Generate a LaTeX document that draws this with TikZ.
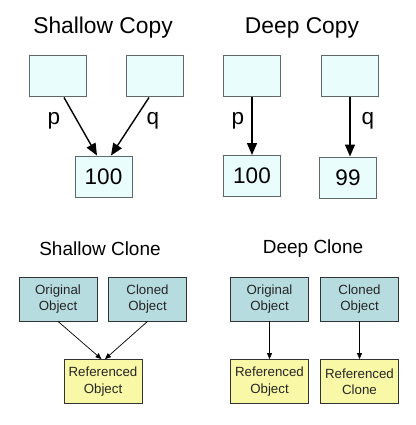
\documentclass[tikz,border=0pt]{standalone}
\usepackage{fontspec}
\setmainfont{Liberation Sans}
\usepackage{tikz}
\usetikzlibrary{positioning,arrows.meta,calc}
\definecolor{ptrfill}{HTML}{EAFDFD}
\definecolor{ptrdraw}{HTML}{5F6868}
\definecolor{objfill}{HTML}{B7DCE0}
\definecolor{reffill}{HTML}{F8F8A6}

\begin{document}
\begin{tikzpicture}[x=1pt,y=-1pt,
		title/.style={font=\fontsize{22.8}{26}\selectfont},
		subtitle/.style={font=\fontsize{19}{22}\selectfont},
		cell/.style={draw=ptrdraw,fill=ptrfill,line width=1pt,minimum width=57pt,minimum height=41pt,inner sep=0pt,font=\fontsize{22.5}{26}\selectfont},
		lbl/.style={font=\fontsize{22.5}{26}\selectfont},
		obj/.style={draw=black!80,line width=0.8pt,minimum width=78pt,minimum height=44pt,inner sep=0pt,align=center,font=\fontsize{13.3}{16.5}\selectfont,text=black!85},
		ptr/.style={-{Triangle[length=12pt,width=10pt]},line width=1.4pt},
		link/.style={-{Triangle[length=6pt,width=5pt]},line width=0.7pt}]
		
		\useasboundingbox (0,0) rectangle (415,425);
		
		% shallow copy
		\node[title] (tsc) at (103,28) {Shallow Copy};
		\node[cell] (sp) at (57.5,76.5) {};
		\node[cell] (sq) at (155,76.5) {};
		\node[cell] (sv) at (103.5,176.5) {100};
		\draw[ptr] ([xshift=6.5pt]sp.south) -- ([xshift=-6.5pt]sv.north);
		\draw[ptr] ([xshift=-6pt]sq.south) -- ([xshift=7.5pt]sv.north);
		\node[lbl] (spl) at (54,121) {p};
		\node[lbl] (sql) at (153,121) {q};
		
		% deep copy
		\node[title] (tdc) at (302,28) {Deep Copy};
		\node[cell] (dp) at (252,76.5) {};
		\node[cell] (dq) at (350,76.5) {};
		\node[cell] (dv) at (252,176) {100};
		\node[cell] (dw) at (348,177.5) {99};
		\draw[ptr] (dp.south) -- (dv.north);
		\draw[ptr] (dq.south) -- (dq.south |- dw.north);
		\node[lbl] (dpl) at (238,121) {p};
		\node[lbl] (dql) at (368,121) {q};
		
		% shallow clone
		\node[subtitle] (tsl) at (100,249) {Shallow Clone};
		\node[obj,fill=objfill] (so) at (58,299) {Original\\Object};
		\node[obj,fill=objfill] (sc) at (147.5,299) {Cloned\\Object};
		\node[obj,fill=reffill] (sr) at (103,381.5) {Referenced\\Object};
		\draw[link] (so.south) -- ([xshift=-1.5pt]sr.north);
		\draw[link] (sc.south) -- ([xshift=2pt]sr.north);
		
		% deep clone
		\node[subtitle] (tdl) at (313,249) {Deep Clone};
		\node[obj,fill=objfill] (do) at (269.5,299) {Original\\Object};
		\node[obj,fill=objfill] (dc) at (359.5,299) {Cloned\\Object};
		\node[obj,fill=reffill] (dr) at (269.5,381.5) {Referenced\\Object};
		\node[obj,fill=reffill] (ds) at (359.5,381.5) {Referenced\\Clone};
		\draw[link] (do.south) -- (dr.north);
		\draw[link] (dc.south) -- (ds.north);
		
	\end{tikzpicture}
\end{document}
